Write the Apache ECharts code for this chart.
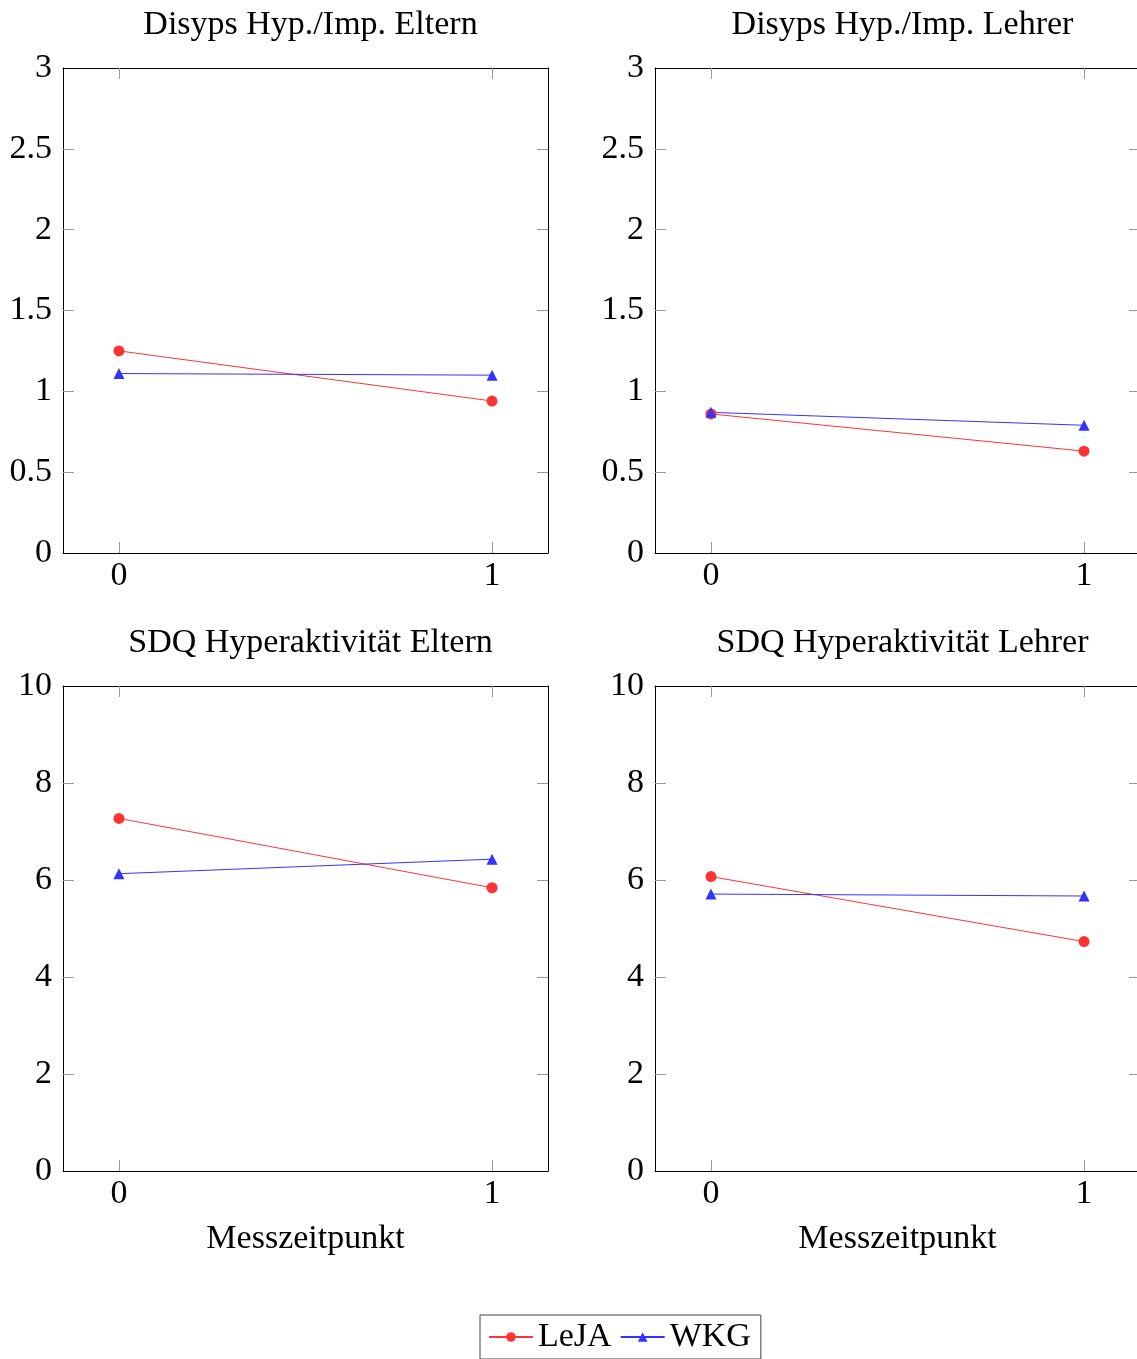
<!DOCTYPE html>
<html><head><meta charset="utf-8">
<script src="https://cdn.jsdelivr.net/npm/echarts@6/dist/echarts.min.js"></script>
<style>html,body{margin:0;padding:0;background:#fff}#c{width:1137px;height:1359px}</style>
</head><body><div id="c"></div>
<script>
const titles = ['Disyps Hyp./Imp. Eltern','Disyps Hyp./Imp. Lehrer','SDQ Hyperaktivität Eltern','SDQ Hyperaktivität Lehrer'];
const xValues = [0, 1];
const lejaValues = [[1.25, 0.94],[0.86, 0.63],[7.27, 5.84],[6.07, 4.73]];
const wkgValues = [[1.11, 1.10],[0.87, 0.79],[6.13, 6.43],[5.71, 5.67]];
const yMaxes = [3, 3, 10, 10];
const yIntervals = [0.5, 0.5, 2, 2];
const xTickLabels = [0, 1];
const seriesNames = ['LeJA','WKG'];
const xAxisTitle = 'Messzeitpunkt';

const FONT = 'Liberation Serif';
const FS = 34;
const pos = [[63,68],[655,68],[63,686],[655,686]];
const W = 485, H = 485;
const chart = echarts.init(document.getElementById('c'));
const grid=[], xAxis=[], yAxis=[], series=[], title=[];
const tickStyle = {show:true, inside:true, length:11, lineStyle:{color:'#999', width:1}};
pos.forEach((p,i)=>{
  grid.push({left:p[0], top:p[1], width:W, height:H, show:false, outerBoundsMode:'none', containLabel:false});
  title.push({text:titles[i], left:p[0]+W/2, top:p[1]-65, textAlign:'center',
    textStyle:{fontFamily:FONT, fontSize:FS, fontWeight:'normal', color:'#000'}});
  const xb = {type:'value', gridIndex:i, min:-0.15, max:1.15, splitLine:{show:false}, z:1,
    axisLine:{show:true, onZero:false, lineStyle:{color:'#000', width:1}},
    axisTick:Object.assign({customValues:xTickLabels}, tickStyle)};
  xAxis.push(Object.assign({}, xb, {position:'bottom',
    axisLabel:{customValues:xTickLabels, fontFamily:FONT, fontSize:FS, color:'#000', margin:6},
    name: i>=2 ? xAxisTitle : '', nameLocation:'middle', nameGap:51,
    nameTextStyle:{fontFamily:FONT, fontSize:FS, color:'#000'}}));
  xAxis.push(Object.assign({}, xb, {position:'top', axisLabel:{show:false}}));
  const yb = {type:'value', gridIndex:i, min:0, max:yMaxes[i], interval:yIntervals[i], splitLine:{show:false}, z:0,
    axisLine:{show:true, onZero:false, lineStyle:{color:'#000', width:1}}, axisTick:tickStyle};
  yAxis.push(Object.assign({}, yb, {position:'left',
    axisLabel:{fontFamily:FONT, fontSize:FS, color:'#000', margin:11}}));
  yAxis.push(Object.assign({}, yb, {position:'right', axisLabel:{show:false}}));
  series.push({name:seriesNames[0], type:'line', xAxisIndex:2*i, yAxisIndex:2*i, z:3,
    data:xValues.map((x,k)=>[x, lejaValues[i][k]]), symbol:'circle', symbolSize:11,
    lineStyle:{color:'#ff3333', width:1}, itemStyle:{color:'#ff3333'}, animation:false});
  series.push({name:seriesNames[1], type:'line', xAxisIndex:2*i, yAxisIndex:2*i, z:3,
    data:xValues.map((x,k)=>[x, wkgValues[i][k]]), symbol:'triangle', symbolSize:11,
    lineStyle:{color:'#3333ff', width:1}, itemStyle:{color:'#3333ff'}, animation:false});
});
chart.setOption({
  animation:false,
  title, grid, xAxis, yAxis, series,
  legend:{data:seriesNames, left:480, top:1315, itemWidth:44, itemHeight:12, itemGap:8,
    borderColor:'#444', borderWidth:1, padding:[5,10,5,8],
    textStyle:{fontFamily:FONT, fontSize:FS, color:'#000'}}
});
</script></body></html>
